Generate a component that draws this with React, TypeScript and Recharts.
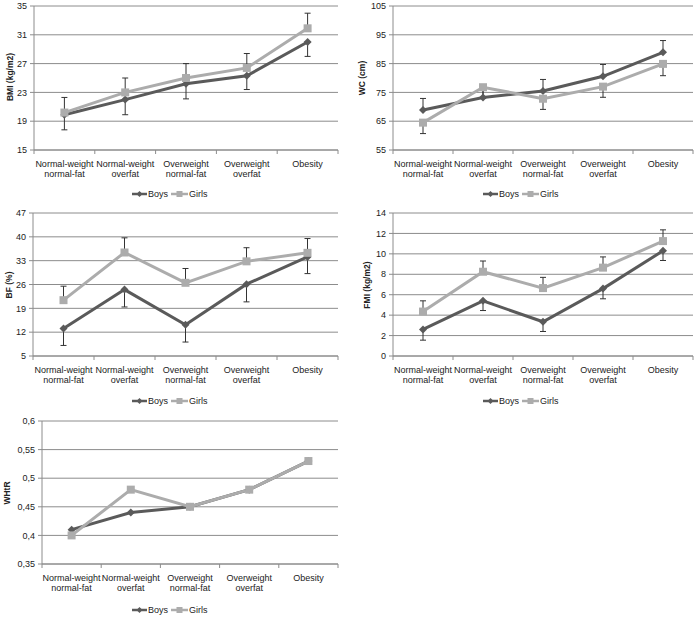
import React from 'react';
import { LineChart, Line, XAxis, YAxis, CartesianGrid, ErrorBar } from 'recharts';

const categories = [
  'Normal-weight\nnormal-fat',
  'Normal-weight\noverfat',
  'Overweight\nnormal-fat',
  'Overweight\noverfat',
  'Obesity',
];

const bmiTicks = [15, 19, 23, 27, 31, 35];
const bmiBoys = [19.9, 22.0, 24.2, 25.3, 30.0];
const bmiGirls = [20.2, 23.0, 25.0, 26.4, 31.9];
const bmiBoysSd = [2.1, 2.1, 2.1, 1.9, 2.0];
const bmiGirlsSd = [2.1, 2.0, 2.0, 2.0, 2.1];

const wcTicks = [55, 65, 75, 85, 95, 105];
const wcBoys = [68.9, 73.2, 75.5, 80.6, 88.9];
const wcGirls = [64.5, 76.8, 72.8, 77.0, 84.9];
const wcBoysSd = [4.0, 4.0, 4.0, 4.1, 4.1];
const wcGirlsSd = [3.8, 3.8, 3.7, 3.7, 4.1];

const bfTicks = [5, 12, 19, 26, 33, 40, 47];
const bfBoys = [13.1, 24.5, 14.2, 26.1, 34.1];
const bfGirls = [21.4, 35.4, 26.5, 32.8, 35.3];
const bfBoysSd = [5.0, 5.1, 5.1, 5.2, 4.9];
const bfGirlsSd = [4.1, 4.3, 4.2, 4.0, 4.2];

const fmiTicks = [0, 2, 4, 6, 8, 10, 12, 14];
const fmiBoys = [2.6, 5.4, 3.35, 6.6, 10.3];
const fmiGirls = [4.35, 8.25, 6.65, 8.65, 11.25];
const fmiBoysSd = [1.05, 0.95, 0.95, 1.0, 0.95];
const fmiGirlsSd = [1.05, 1.05, 1.05, 1.05, 1.1];

const whtrTicks = [0.35, 0.4, 0.45, 0.5, 0.55, 0.6];
const whtrBoys = [0.41, 0.44, 0.45, 0.48, 0.53];
const whtrGirls = [0.40, 0.48, 0.45, 0.48, 0.53];

const BOYS = '#5a5a5a';
const GIRLS = '#acacac';
const GRID = '#8c8c8c';
const FONT = '"Liberation Sans", Arial, sans-serif';

const BoysDot = (p: any) => {
  const { cx, cy } = p;
  if (cx == null || cy == null) return null;
  const r = 4;
  return <polygon key={p.index} points={`${cx},${cy - r} ${cx + r},${cy} ${cx},${cy + r} ${cx - r},${cy}`} fill={BOYS} />;
};

const GirlsDot = (p: any) => {
  const { cx, cy } = p;
  if (cx == null || cy == null) return null;
  const s = 8;
  return <rect key={p.index} x={cx - s / 2} y={cy - s / 2} width={s} height={s} fill={GIRLS} />;
};

type PanelProps = {
  left: number;
  top: number;
  width: number;
  plotLeft: number;
  plotRight: number;
  plotTop: number;
  plotBottom: number;
  ticks: number[];
  boys: number[];
  girls: number[];
  boysSd?: number[];
  girlsSd?: number[];
  boysUp?: boolean;
  comma?: boolean;
};

const Panel = (props: PanelProps) => {
  const { left, top, width, plotLeft, plotRight, plotTop, plotBottom, ticks, boys, girls, boysSd, girlsSd, boysUp, comma } = props;
  const data = categories.map((name, i) => ({
    name,
    boys: boys[i],
    girls: girls[i],
    boysErr: boysSd ? (boysUp ? [0, boysSd[i]] : [boysSd[i], 0]) : undefined,
    girlsErr: girlsSd ? (boysUp ? [girlsSd[i], 0] : [0, girlsSd[i]]) : undefined,
  }));
  const axisY = plotBottom - top;
  const band = (plotRight - plotLeft) / categories.length;

  const CatTick = (t: any) => {
    const lines = String(t.payload.value).split('\n');
    return (
      <g>
        <line x1={t.x - band / 2} x2={t.x - band / 2} y1={axisY} y2={axisY + 4} stroke={GRID} />
        {t.index === categories.length - 1 && (
          <line x1={t.x + band / 2} x2={t.x + band / 2} y1={axisY} y2={axisY + 4} stroke={GRID} />
        )}
        {lines.map((l, k) => (
          <text key={k} x={t.x} y={axisY + 16.5 + k * 10} textAnchor="middle" fontSize={9} fill="#222" fontFamily={FONT}>
            {l}
          </text>
        ))}
      </g>
    );
  };

  return (
    <div style={{ position: 'absolute', left, top }}>
      <LineChart
        width={width}
        height={axisY + 36}
        data={data}
        margin={{ top: plotTop - top, right: left + width - plotRight, left: 0, bottom: 0 }}
      >
        <CartesianGrid vertical={false} stroke={GRID} />
        <XAxis
          dataKey="name"
          scale="band"
          interval={0}
          height={36}
          tickLine={false}
          axisLine={{ stroke: GRID }}
          tick={CatTick}
        />
        <YAxis
          type="number"
          domain={[ticks[0], ticks[ticks.length - 1]]}
          ticks={ticks}
          interval={0}
          width={plotLeft - left}
          axisLine={{ stroke: GRID }}
          tickLine={{ stroke: GRID }}
          tickSize={4}
          tickMargin={3}
          tick={{ fontSize: 9, fill: '#222', fontFamily: FONT }}
          tickFormatter={(v: number) => (comma ? String(v).replace('.', ',') : String(v))}
        />
        <Line dataKey="boys" stroke={BOYS} strokeWidth={3} dot={BoysDot} activeDot={false} isAnimationActive={false}>
          {boysSd && <ErrorBar dataKey="boysErr" direction="y" width={3} stroke="#333" strokeWidth={1} />}
        </Line>
        <Line dataKey="girls" stroke={GIRLS} strokeWidth={3} dot={GirlsDot} activeDot={false} isAnimationActive={false}>
          {girlsSd && <ErrorBar dataKey="girlsErr" direction="y" width={3} stroke="#333" strokeWidth={1} />}
        </Line>
      </LineChart>
    </div>
  );
};

const YLabel = ({ x, y, text }: { x: number; y: number; text: string }) => (
  <text
    x={x}
    y={y}
    transform={`rotate(-90 ${x} ${y})`}
    textAnchor="middle"
    dominantBaseline="central"
    fontSize={8.5}
    fontWeight="bold"
    fill="#222"
    fontFamily={FONT}
  >
    {text}
  </text>
);

const Legend = ({ cx, cy }: { cx: number; cy: number }) => (
  <g fontFamily={FONT} fontSize={9} fill="#222">
    <line x1={cx - 38} x2={cx - 23} y1={cy} y2={cy} stroke={BOYS} strokeWidth={2.5} />
    <polygon points={`${cx - 30.5},${cy - 3} ${cx - 27.5},${cy} ${cx - 30.5},${cy + 3} ${cx - 33.5},${cy}`} fill={BOYS} />
    <text x={cx - 22} y={cy + 3.2}>Boys</text>
    <line x1={cx + 1} x2={cx + 18} y1={cy} y2={cy} stroke={GIRLS} strokeWidth={2.5} />
    <rect x={cx + 6.5} y={cy - 3} width={6} height={6} fill={GIRLS} />
    <text x={cx + 19} y={cy + 3.2}>Girls</text>
  </g>
);

export default function App() {
  return (
    <div style={{ position: 'absolute', left: 0, top: 0, width: 697, height: 618, background: '#fff', fontFamily: FONT }}>
      <Panel left={0} top={0} width={345} plotLeft={34} plotRight={338} plotTop={6} plotBottom={150}
        ticks={bmiTicks} boys={bmiBoys} girls={bmiGirls} boysSd={bmiBoysSd} girlsSd={bmiGirlsSd} />
      <Panel left={345} top={0} width={352} plotLeft={393} plotRight={693} plotTop={6} plotBottom={150}
        ticks={wcTicks} boys={wcBoys} girls={wcGirls} boysSd={wcBoysSd} girlsSd={wcGirlsSd} boysUp />
      <Panel left={0} top={200} width={345} plotLeft={33} plotRight={338} plotTop={213} plotBottom={356}
        ticks={bfTicks} boys={bfBoys} girls={bfGirls} boysSd={bfBoysSd} girlsSd={bfGirlsSd} />
      <Panel left={345} top={200} width={352} plotLeft={393} plotRight={693} plotTop={213} plotBottom={356}
        ticks={fmiTicks} boys={fmiBoys} girls={fmiGirls} boysSd={fmiBoysSd} girlsSd={fmiGirlsSd} />
      <Panel left={0} top={400} width={345} plotLeft={42} plotRight={338} plotTop={421} plotBottom={564}
        ticks={whtrTicks} boys={whtrBoys} girls={whtrGirls} comma />
      <svg width={697} height={618} style={{ position: 'absolute', left: 0, top: 0, pointerEvents: 'none' }}>
        <YLabel x={10} y={77} text="BMI (kg/m2)" />
        <YLabel x={362} y={78} text="WC (cm)" />
        <YLabel x={8.5} y={285} text="BF (%)" />
        <YLabel x={367} y={285} text="FMI (kg/m2)" />
        <YLabel x={6.5} y={493} text="WHtR" />
        <Legend cx={170} cy={194} />
        <Legend cx={521} cy={194} />
        <Legend cx={170} cy={401} />
        <Legend cx={521} cy={401} />
        <Legend cx={170} cy={610} />
      </svg>
    </div>
  );
}
